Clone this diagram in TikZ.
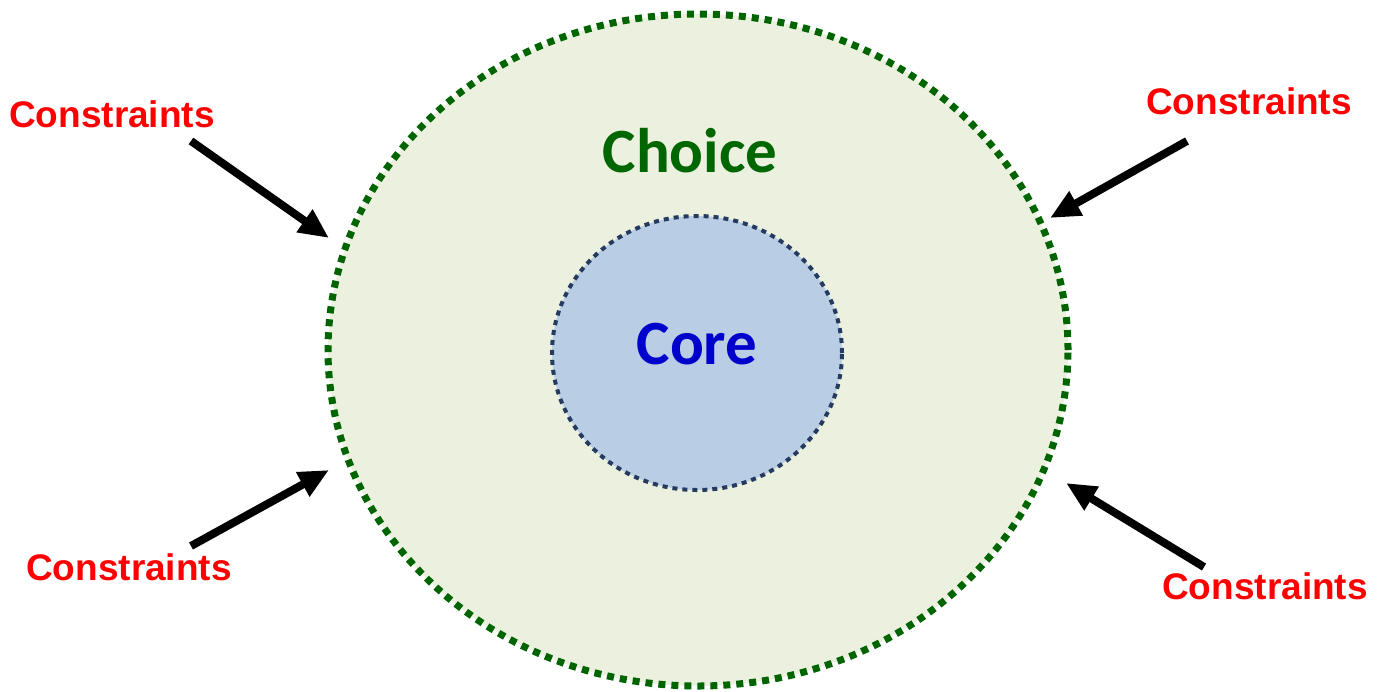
\documentclass[tikz,border=0pt]{standalone}
\usepackage{fontspec}
\newfontfamily\arialfont{Liberation Sans}
\newfontfamily\calfont{Carlito}
\usetikzlibrary{shapes.geometric,arrows.meta}
\definecolor{outerfill}{HTML}{EBF1DE}
\definecolor{outerline}{HTML}{006400}
\definecolor{innerfill}{HTML}{B9CDE5}
\definecolor{innerline}{HTML}{243A5E}
\definecolor{choicecol}{HTML}{006600}
\definecolor{corecol}{HTML}{0000CC}
\tikzset{
  outerring/.style={ellipse, draw=outerline, fill=outerfill, line width=3.5pt,
    dash pattern=on 3.5pt off 3pt, inner sep=0pt, minimum width=370pt, minimum height=336pt},
  innerring/.style={ellipse, draw=innerline, fill=innerfill, line width=2pt,
    dash pattern=on 2.5pt off 2.5pt, inner sep=0pt, minimum width=145pt, minimum height=137pt},
  constr/.style={font=\arialfont\bfseries\fontsize{18.5}{22}\selectfont, text=red, inner sep=0pt},
  biglabel/.style={font=\calfont\bfseries\fontsize{31.5}{36}\selectfont, inner sep=0pt},
  pusharrow/.style={line width=4pt, -{Triangle[length=15pt,width=13pt]}}
}
\begin{document}
\begin{tikzpicture}[x=0.5pt,y=-0.5pt]
\useasboundingbox (0,0) rectangle (1384,691);
\node[outerring] (outer) at (698,350) {};
\node[innerring] (inner) at (697,353) {};
\node[biglabel, text=choicecol] (choice) at (690,151) {Choice};
\node[biglabel, text=corecol] (core) at (697,344) {Core};

\node[constr] (ctl) at (112,114) {Constraints};
\node[constr] (ctr) at (1249,101) {Constraints};
\node[constr] (cbl) at (129,567) {Constraints};
\node[constr] (cbr) at (1265,586) {Constraints};

\coordinate (tlA) at (191,141);
\coordinate (tlB) at (329,238);
\coordinate (trA) at (1187,141);
\coordinate (trB) at (1050,218);
\coordinate (blA) at (191,546);
\coordinate (blB) at (329,470);
\coordinate (brA) at (1204,567);
\coordinate (brB) at (1066,483);

\draw[pusharrow] (tlA) -- (tlB);
\draw[pusharrow] (trA) -- (trB);
\draw[pusharrow] (blA) -- (blB);
\draw[pusharrow] (brA) -- (brB);
\end{tikzpicture}
\end{document}
